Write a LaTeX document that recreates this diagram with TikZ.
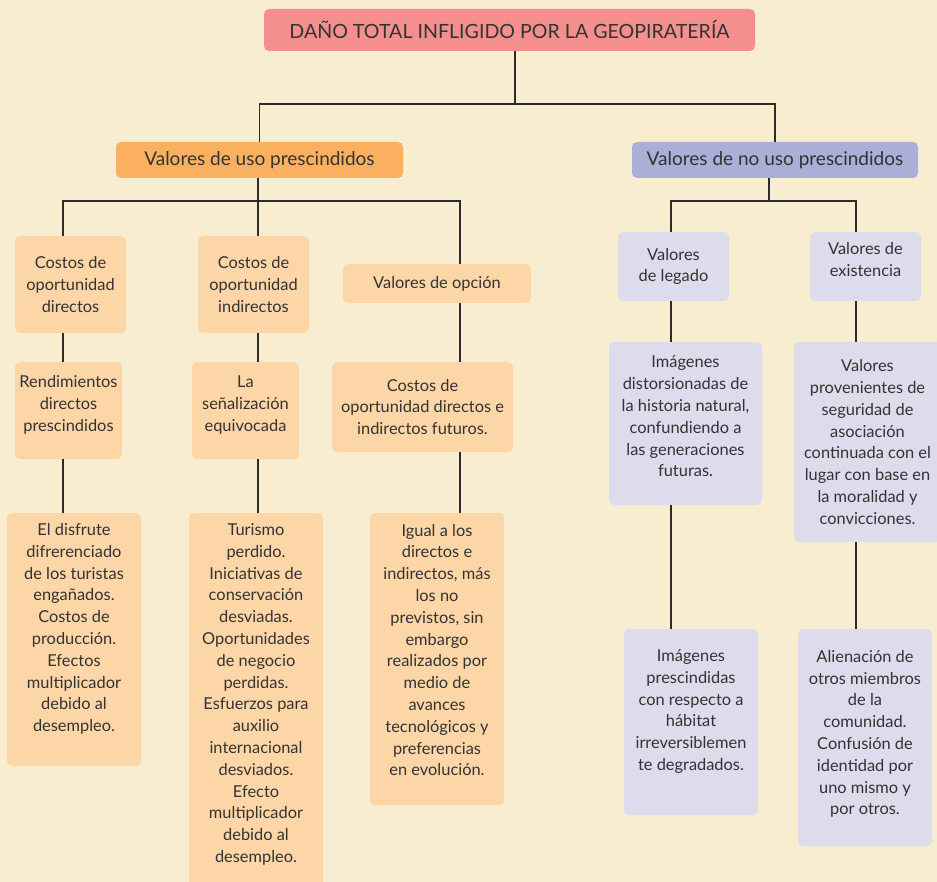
\documentclass[tikz,border=0pt]{standalone}
\usepackage{fontspec}
\setmainfont{Lato}
\definecolor{fondo}{HTML}{F8EDD0}
\definecolor{rosa}{HTML}{F58F8E}
\definecolor{naranja}{HTML}{FBB060}
\definecolor{naranjaclaro}{HTML}{FDD6A7}
\definecolor{lila}{HTML}{A9AFD7}
\definecolor{lilaclaro}{HTML}{DCDCEC}
\definecolor{trazo}{HTML}{2B2B2B}
\definecolor{texto}{HTML}{333333}
\tikzset{
  caja/.style={rounded corners=5pt, align=center, text=texto, inner sep=2pt,
    font=\fontsize{16.4pt}{21.8pt}\selectfont},
  cajauso/.style={caja, fill=naranjaclaro},
  cajanouso/.style={caja, fill=lilaclaro},
  cabeza/.style={caja, font=\fontsize{19pt}{22pt}\selectfont},
  lift/.style={text depth=#1},
  linea/.style={line width=1.8pt, draw=trazo}
}
\begin{document}
\begin{tikzpicture}[x=1pt,y=-1pt]
  \fill[fondo] (0,0) rectangle (937,882);
  \useasboundingbox (0,0) rectangle (937,882);

  \node[cabeza, fill=rosa, minimum width=491, minimum height=42,
    font=\fontsize{19.6pt}{22pt}\selectfont] (dano) at (509.5,30)
    {DAÑO TOTAL INFLIGIDO POR LA GEOPIRATERÍA};
  \node[cabeza, fill=naranja, minimum width=287, minimum height=36] (uso) at (259.5,160)
    {Valores de uso prescindidos};
  \node[cabeza, fill=lila, minimum width=286, minimum height=36] (nouso) at (775,160)
    {Valores de no uso prescindidos};

  \node[cajauso, minimum width=111, minimum height=97] (cod) at (70.5,284.5)
    {Costos de\\oportunidad\\directos};
  \node[cajauso, minimum width=111, minimum height=97] (coi) at (253.5,284.5)
    {Costos de\\oportunidad\\indirectos};
  \node[cajauso, minimum width=188, minimum height=39] (vop) at (437,283.5)
    {Valores de opción};

  \node[cajauso, lift=14pt, minimum width=107, minimum height=97] (rdp) at (68.5,410.5)
    {Rendimientos\\directos\\prescindidos};
  \node[cajauso, lift=14pt, minimum width=107, minimum height=97] (sen) at (245.5,410.5)
    {La\\señalización\\equivocada};
  \node[cajauso, minimum width=181, minimum height=90] (cfu) at (422.5,407)
    {Costos de\\oportunidad directos e\\indirectos futuros.};

  \node[cajauso, lift=24pt, minimum width=134, minimum height=253] (dis) at (74,639.5)
    {El disfrute\\difrerenciado\\de los turistas\\engañados.\\Costos de\\producción.\\Efectos\\multiplicador\\debido al\\desempleo.};
  \node[cajauso, lift=22pt, minimum width=134, minimum height=382] (tur) at (256,704)
    {Turismo\\perdido.\\Iniciativas de\\conservación\\desviadas.\\Oportunidades\\de negocio\\perdidas.\\Esfuerzos para\\auxilio\\internacional\\desviados.\\Efecto\\multiplicador\\debido al\\desempleo.};
  \node[cajauso, lift=18pt, minimum width=134, minimum height=292] (igu) at (437,659)
    {Igual a los\\directos e\\indirectos, más\\los no\\previstos, sin\\embargo\\realizados por\\medio de\\avances\\tecnológicos y\\preferencias\\en evolución.};

  \node[cajanouso, minimum width=111, minimum height=69] (leg) at (673.5,266.5)
    {Valores\\de legado};
  \node[cajanouso, lift=14pt, minimum width=111, minimum height=69] (exi) at (865.5,266.5)
    {Valores de\\existencia};
  \node[cajanouso, lift=14pt, minimum width=153, minimum height=163] (ima) at (685.5,423.5)
    {Imágenes\\distorsionadas de\\la historia natural,\\confundiendo a\\las generaciones\\futuras.};
  \node[cajanouso, minimum width=147, minimum height=200] (vpr) at (867.5,442)
    {Valores\\provenientes de\\seguridad de\\asociación\\continuada con el\\lugar con base en\\la moralidad y\\convicciones.};
  \node[cajanouso, lift=24pt, minimum width=134, minimum height=186] (imp) at (691,722)
    {Imágenes\\prescindidas\\con respecto a\\hábitat\\irreversiblemen\\te degradados.};
  \node[cajanouso, lift=10pt, minimum width=134, minimum height=217] (ali) at (865,737.5)
    {Alienación de\\otros miembros\\de la\\comunidad.\\Confusión de\\identidad por\\uno mismo y\\por otros.};

  \coordinate (b0) at (515,104);
  \coordinate (u1) at (63,201);
  \coordinate (u2) at (258,201);
  \coordinate (u3) at (460,201);
  \coordinate (n0) at (769,201);
  \coordinate (n1) at (671,201);
  \coordinate (n2) at (856,201);

  \begin{scope}[linea]
    \draw (dano.south -| b0) -- (b0);
    \draw (uso.north) |- (b0) -| (nouso.north);
    \draw (uso.south -| u2) -- (coi.north -| u2);
    \draw (cod.north -| u1) -- (u1) -- (u3) -- (vop.north -| u3);
    \draw (cod.south -| u1) -- (rdp.north -| u1);
    \draw (coi.south -| u2) -- (sen.north -| u2);
    \draw (vop.south -| u3) -- (cfu.north -| u3);
    \draw (rdp.south -| u1) -- (dis.north -| u1);
    \draw (sen.south -| u2) -- (tur.north -| u2);
    \draw (cfu.south -| u3) -- (igu.north -| u3);
    \draw (nouso.south -| n0) -- (n0);
    \draw (leg.north -| n1) -- (n1) -- (n2) -- (exi.north -| n2);
    \draw (leg.south -| n1) -- (ima.north -| n1);
    \draw (exi.south -| n2) -- (vpr.north -| n2);
    \draw (ima.south -| n1) -- (imp.north -| n1);
    \draw (vpr.south -| n2) -- (ali.north -| n2);
  \end{scope}
\end{tikzpicture}
\end{document}
